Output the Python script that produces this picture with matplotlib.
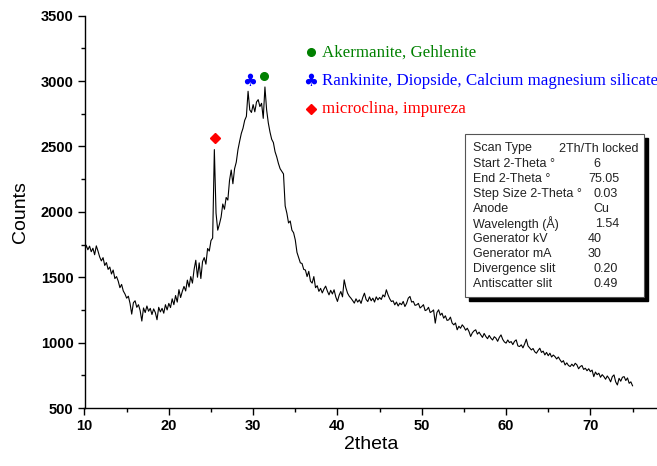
import numpy as np
import matplotlib
matplotlib.use("Agg")
import matplotlib.pyplot as plt
from matplotlib.patches import Rectangle
from matplotlib.ticker import MultipleLocator

# -------------------------------
# Data
# -------------------------------

# scan grid, 0.2 degree steps from 10 to 75
two_theta = np.round(np.arange(10.0, 75.01, 0.2), 2)

counts = [
    1690, 1745, 1710, 1738, 1695, 1722, 1672, 1740, 1700, 1655,   # 10.0 - 11.8
    1625, 1650, 1590, 1612, 1560, 1578, 1525, 1555, 1490, 1505,   # 12.0 - 13.8
    1470, 1420, 1445, 1395, 1372, 1340, 1355, 1300, 1218, 1305,   # 14.0 - 15.8
    1320, 1270, 1290, 1245, 1165, 1265, 1230, 1280, 1240, 1262,   # 16.0 - 17.8
    1215, 1258, 1230, 1175, 1270, 1235, 1262, 1225, 1290, 1250,   # 18.0 - 19.8
    1300, 1268, 1335, 1290, 1360, 1310, 1405, 1345, 1392, 1430,   # 20.0 - 21.8
    1395, 1478, 1425, 1505, 1455, 1560, 1630, 1500, 1610, 1490,   # 22.0 - 23.8
    1620, 1650, 1600, 1720, 1700, 1780, 1800, 2476, 1990, 1860,   # 24.0 - 25.8
    1905, 1960, 2060, 2020, 2110, 2090, 2240, 2320, 2215, 2330,   # 26.0 - 27.8
    2380, 2475, 2540, 2600, 2640, 2700, 2730, 2922, 2780, 2760,   # 28.0 - 29.8
    2820, 2765, 2840, 2858, 2805, 2830, 2715, 2955, 2780, 2680,   # 30.0 - 31.8
    2610, 2555, 2530, 2460, 2420, 2370, 2330, 2310, 2290, 2045,   # 32.0 - 33.8
    1990, 1915, 1930, 1860, 1840, 1785, 1690, 1650, 1610, 1605,   # 34.0 - 35.8
    1560, 1555, 1505, 1545, 1470, 1455, 1505, 1420, 1435, 1392,   # 36.0 - 37.8
    1415, 1380, 1410, 1432, 1395, 1365, 1400, 1372, 1404, 1350,   # 38.0 - 39.8
    1315, 1362, 1391, 1350, 1480, 1420, 1378, 1355, 1340, 1322,   # 40.0 - 41.8
    1302, 1335, 1310, 1327, 1300, 1345, 1378, 1330, 1314, 1350,   # 42.0 - 43.8
    1320, 1340, 1310, 1350, 1327, 1345, 1330, 1365, 1350, 1404,   # 44.0 - 45.8
    1365, 1335, 1314, 1320, 1289, 1310, 1280, 1302, 1290, 1315,   # 46.0 - 47.8
    1276, 1300, 1340, 1353, 1310, 1315, 1285, 1289, 1300, 1265,   # 48.0 - 49.8
    1276, 1290, 1245, 1251, 1270, 1230, 1238, 1250, 1149, 1230,   # 50.0 - 51.8
    1251, 1210, 1225, 1187, 1205, 1170, 1174, 1195, 1150, 1136,   # 52.0 - 53.8
    1150, 1098, 1125, 1110, 1136, 1120, 1095, 1110, 1085, 1047,   # 54.0 - 55.8
    1075, 1090, 1098, 1065, 1080, 1059, 1040, 1070, 1047, 1030,   # 56.0 - 57.8
    1055, 1034, 1020, 1045, 1034, 1010, 1040, 1059, 1025, 1005,   # 58.0 - 59.8
    996, 1020, 1000, 1008, 985, 1010, 1021, 975, 970, 983,        # 60.0 - 61.8
    960, 990, 1026, 975, 960, 944, 955, 930, 919, 940,            # 62.0 - 63.8
    957, 925, 935, 906, 925, 900, 919, 890, 905, 893,             # 64.0 - 65.8
    875, 890, 868, 850, 862, 829, 845, 825, 817, 835,             # 66.0 - 67.8
    820, 842, 830, 800, 817, 825, 795, 804, 785, 800,             # 68.0 - 69.8
    778, 790, 740, 775, 755, 766, 735, 755, 740, 720,             # 70.0 - 71.8
    745, 727, 700, 740, 753, 700, 676, 727, 705, 735,             # 72.0 - 73.8
    740, 710, 730, 689, 700, 670,                                 # 74.0 - 75.0
]

# phase markers above the peaks
peak_2theta = [31.3, 29.55, 25.48]
peak_counts = [3037, 2998, 2565]
phase_names = ["Akermanite, Gehlenite",
               "Rankinite, Diopside, Calcium magnesium silicate",
               "microclina, impureza"]
phase_colors = ["#008000", "#0000ff", "#ff0000"]

# instrument settings box
param_names = ["Scan Type", "Start 2-Theta °", "End 2-Theta °", "Step Size 2-Theta °",
               "Anode", "Wavelength (Å)", "Generator kV", "Generator mA",
               "Divergence slit", "Antiscatter slit"]
param_values = ["2Th/Th locked", "6", "75.05", "0.03", "Cu", "1.54",
                "40", "30", "0.20", "0.49"]

# -------------------------------
# Figure
# -------------------------------
W, H = 657, 466
fig = plt.figure(figsize=(W / 100, H / 100), dpi=100)
ax = fig.add_axes([84.5 / W, 58 / H, (W - 84.5) / W, 392.3 / H])

ax.plot(two_theta, counts, color="black", lw=0.8)

ax.set_xlim(10, 77.9)
ax.set_ylim(500, 3500)
ax.xaxis.set_major_locator(MultipleLocator(10))
ax.xaxis.set_minor_locator(MultipleLocator(5))
ax.yaxis.set_major_locator(MultipleLocator(500))
ax.yaxis.set_minor_locator(MultipleLocator(250))

for s in ["top", "right"]:
    ax.spines[s].set_visible(False)
for s in ["left", "bottom"]:
    ax.spines[s].set_linewidth(1.0)

ax.tick_params(which="major", direction="out", length=5, width=1, pad=3)
ax.tick_params(which="minor", direction="out", length=3, width=1)
for lab in ax.get_xticklabels() + ax.get_yticklabels():
    lab.set_fontfamily("Liberation Sans")
    lab.set_fontweight("bold")
    lab.set_fontsize(10.5)

ax.set_xlabel("2theta", fontfamily="Liberation Sans", fontsize=14, labelpad=2)
ax.set_ylabel("Counts", fontfamily="Liberation Sans", fontsize=14, labelpad=8)

# peak markers
ax.plot(peak_2theta[0], peak_counts[0], "o", color=phase_colors[0], ms=5.5, clip_on=False)
ax.text(peak_2theta[1], peak_counts[1], "\u2663", color=phase_colors[1], fontsize=12,
        ha="center", va="center", family="DejaVu Sans")
ax.plot(peak_2theta[2], peak_counts[2], "D", color=phase_colors[2], ms=5)

# phase legend
legend_y = [3221, 2998, 2789]
ax.plot(36.81, legend_y[0], "o", color=phase_colors[0], ms=5.5)
ax.text(36.81, legend_y[1], "\u2663", color=phase_colors[1], fontsize=12,
        ha="center", va="center", family="DejaVu Sans")
ax.plot(36.81, legend_y[2], "D", color=phase_colors[2], ms=5)
for name, c, yv in zip(phase_names, phase_colors, legend_y):
    ax.text(38.2, yv, name, color=c, fontsize=12.2, family="Liberation Serif",
            ha="left", va="center", clip_on=False)

# settings box with drop shadow
bx0, bx1, by0, by1 = 465, 644, 134, 297
fig.patches.append(Rectangle(((bx0 + 4) / W, 1 - (by1 + 4) / H), (bx1 - bx0) / W,
                             (by1 - by0) / H, transform=fig.transFigure,
                             facecolor="black", edgecolor="black", zorder=5))
fig.patches.append(Rectangle((bx0 / W, 1 - by1 / H), (bx1 - bx0) / W,
                             (by1 - by0) / H, transform=fig.transFigure,
                             facecolor="white", edgecolor="#555555", lw=0.8, zorder=6))
value_x = [559, 593, 588, 593, 593, 595, 588, 588, 593, 593]
for i, (nm, val) in enumerate(zip(param_names, param_values)):
    yy = 1 - (148.5 + i * 15.1) / H
    fig.text(473 / W, yy, nm, fontsize=9, family="Liberation Sans", color="#222222",
             ha="left", va="center", zorder=7)
    fig.text(value_x[i] / W, yy, val, fontsize=9, family="Liberation Sans",
             color="#222222", ha="left", va="center", zorder=7)

fig.savefig("out.png", dpi=100)
